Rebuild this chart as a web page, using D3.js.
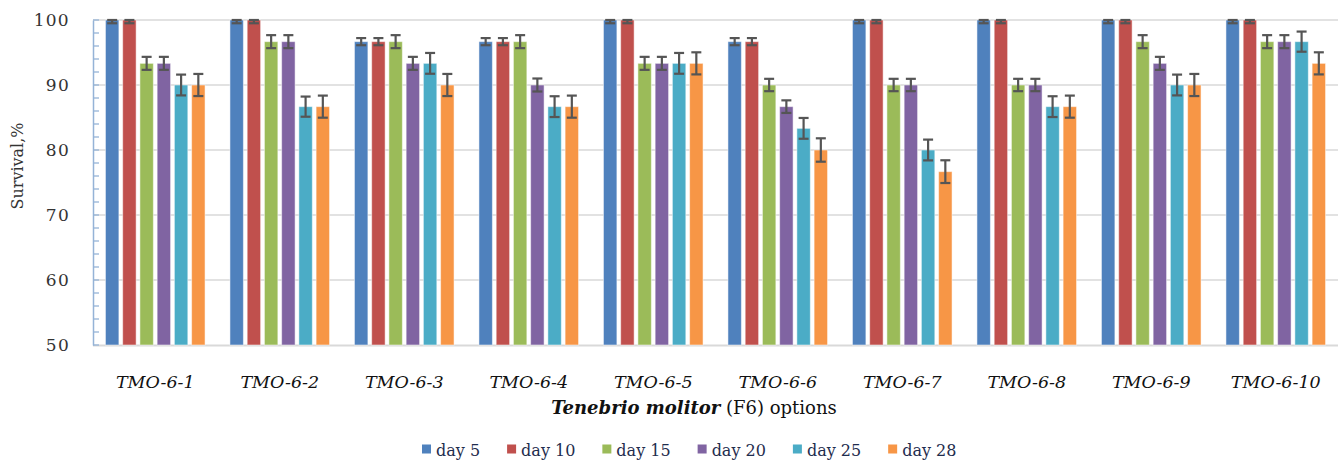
<!DOCTYPE html>
<html><head><meta charset="utf-8">
<script src="https://cdn.jsdelivr.net/npm/d3@7"></script>
<style>body{margin:0;background:#fff}svg{display:block}svg text{font-family:"DejaVu Serif",serif}</style>
</head><body>
<svg id="c" width="1343" height="463"></svg>
<script>
const categories = ["TMO-6-1","TMO-6-2","TMO-6-3","TMO-6-4","TMO-6-5","TMO-6-6","TMO-6-7","TMO-6-8","TMO-6-9","TMO-6-10"];
const seriesNames = ["day 5","day 10","day 15","day 20","day 25","day 28"];
const colors = ["#4f81bd","#c0504d","#9bbb59","#8064a2","#4bacc6","#f79646"];
const day5  = [100,100,96.67,96.67,100,96.67,100,100,100,100];
const day10 = [100,100,96.67,96.67,100,96.67,100,100,100,100];
const day15 = [93.33,96.67,96.67,96.67,93.33,90,90,90,96.67,96.67];
const day20 = [93.33,96.67,93.33,90,93.33,86.67,90,90,93.33,96.67];
const day25 = [90,86.67,93.33,86.67,93.33,83.33,80,86.67,90,96.67];
const day28 = [90,86.67,90,86.67,93.33,80,76.67,86.67,90,93.33];
const err5  = [0.5,0.5,0.55,0.55,0.5,0.55,0.5,0.5,0.5,0.5];
const err10 = [0.5,0.5,0.55,0.55,0.5,0.55,0.5,0.5,0.5,0.5];
const err15 = [1.0,1.0,1.0,1.0,1.0,0.95,0.95,0.95,1.0,1.0];
const err20 = [1.0,1.0,1.0,1.0,1.0,0.97,0.95,0.95,1.0,1.0];
const err25 = [1.6,1.55,1.6,1.6,1.6,1.6,1.6,1.6,1.6,1.55];
const err28 = [1.7,1.7,1.7,1.7,1.7,1.8,1.75,1.7,1.7,1.7];
const yTicks = [50,60,70,80,90,100];

const values = [day5,day10,day15,day20,day25,day28];
const errs = [err5,err10,err15,err20,err25,err28];
const FONT = '"DejaVu Serif", serif';

const svg = d3.select("#c");
const L = 93, R = 1338, T = 20, B = 345;
const x0 = d3.scaleBand().domain(categories).range([L,R]).paddingInner(0.2).paddingOuter(0.1);
const x1 = d3.scaleBand().domain(seriesNames).range([0,x0.bandwidth()]).padding(0.22).paddingOuter(0);
const y = d3.scaleLinear().domain([50,100]).range([B,T]);

// gridlines
svg.append("g").selectAll("line").data(yTicks.filter(d=>d>50)).join("line")
  .attr("x1",L).attr("x2",R).attr("y1",d=>y(d)).attr("y2",d=>y(d))
  .attr("stroke","#d9d9d9").attr("stroke-width",1.5);
// bottom axis line
svg.append("line").attr("x1",L).attr("x2",R).attr("y1",B+0.5).attr("y2",B+0.5)
  .attr("stroke","#d9d9d9").attr("stroke-width",2);

// bars
const data = [];
categories.forEach((c,i)=>seriesNames.forEach((s,j)=>data.push({c,s,j,v:values[j][i],e:errs[j][i]})));
svg.append("g").selectAll("rect").data(data).join("rect")
  .attr("x",d=>x0(d.c)+x1(d.s)).attr("width",x1.bandwidth())
  .attr("y",d=>y(d.v)).attr("height",d=>y(50)-y(d.v))
  .attr("fill",d=>colors[d.j]).attr("stroke","#ffffff").attr("stroke-opacity",0.5).attr("stroke-width",1);

// error bars
const eb = svg.append("g").attr("stroke","#555555").attr("stroke-width",2.2);
const capW = 5;
data.forEach(d=>{
  const cx = x0(d.c)+x1(d.s)+x1.bandwidth()/2;
  const hi = Math.min(d.v+d.e,100), lo = d.v-d.e;
  eb.append("line").attr("x1",cx).attr("x2",cx).attr("y1",y(hi)).attr("y2",y(lo));
  eb.append("line").attr("x1",cx-capW).attr("x2",cx+capW).attr("y1",y(hi)).attr("y2",y(hi));
  eb.append("line").attr("x1",cx-capW).attr("x2",cx+capW).attr("y1",y(lo)).attr("y2",y(lo));
});

// y axis
const yAxis = d3.axisLeft(y).tickValues(yTicks).tickSize(0).tickPadding(23);
const ga = svg.append("g").attr("transform",`translate(${L},0)`).call(yAxis);
ga.attr("font-family",null);
ga.select(".domain").attr("stroke","#95b3d7").attr("stroke-width",1.5);
ga.selectAll("text").style("font-family",FONT).style("font-size","17px").style("letter-spacing","1.3px").attr("fill","#333");
// minor ticks
svg.append("g").selectAll("line").data(d3.range(50,100.01,2)).join("line")
  .attr("x1",L).attr("x2",L+6).attr("y1",d=>y(d)).attr("y2",d=>y(d))
  .attr("stroke","#95b3d7").attr("stroke-width",1.3);

// y title
svg.append("text").attr("transform",`translate(23,166) rotate(-90)`).attr("text-anchor","middle")
  .style("font-family",FONT).style("font-size","16px").attr("fill","#333").text("Survival,%");

// x category labels
const gx = svg.append("g").attr("transform",`translate(0,${B})`).call(d3.axisBottom(x0).tickSize(0).tickPadding(31));
gx.attr("font-family",null);
gx.select(".domain").remove();
gx.selectAll("text").style("font-family",FONT).style("font-size","17.5px").style("font-style","italic").attr("fill","#111");

// x title
const xt = svg.append("text").attr("x",694).attr("y",414).attr("text-anchor","middle")
  .style("font-family",FONT).style("font-size","18px").attr("fill","#111");
xt.append("tspan").style("font-weight","bold").style("font-style","italic").text("Tenebrio molitor");
xt.append("tspan").text(" (F6) options");

// legend (auto layout by measured text width)
const lg = svg.append("g").attr("transform","translate(422,0)");
let lx = 0;
seriesNames.forEach((s,i)=>{
  const g = lg.append("g").attr("transform",`translate(${lx},0)`);
  g.append("rect").attr("x",0).attr("y",444.5).attr("width",9).attr("height",9).attr("fill",colors[i]);
  const t = g.append("text").attr("x",14).attr("y",455.5).style("font-family",FONT).style("font-size","16px")
    .attr("fill","#1f2d4e").text(s);
  lx += 14 + t.node().getComputedTextLength() + 27;
});
</script>
</body></html>
